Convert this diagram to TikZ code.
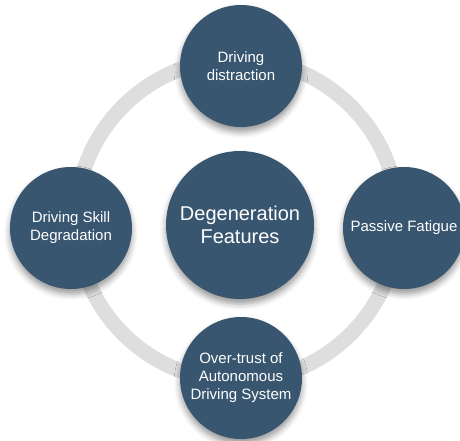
\documentclass[tikz,border=0pt]{standalone}
\usepackage{fontspec}
\setmainfont{Liberation Sans}
\usetikzlibrary{shapes,shadows.blur}
\definecolor{featblue}{HTML}{38566F}
\definecolor{ringgray}{HTML}{DEDEDE}
\tikzset{
  feature/.style = {circle, fill=featblue, text=white, align=center,
                    minimum size=122pt, inner sep=0pt,
                    font=\fontsize{15}{18}\selectfont,
                    blur shadow={shadow xshift=0pt, shadow yshift=-5pt,
                                 shadow blur radius=6pt, shadow opacity=40}},
  hub/.style     = {feature, minimum size=148pt,
                    font=\fontsize{20}{23}\selectfont},
  ring/.style    = {draw=ringgray, line width=15pt}
}

\begin{document}
\begin{tikzpicture}[x=1pt,y=-1pt]
  \useasboundingbox (0,0) rectangle (460,441);
  \coordinate (ringc) at (237,220);
  \draw[ring] (ringc) circle (161pt);
  \node[hub]     (degen)    at (240,225) {Degeneration\\Features};
  \node[feature] (distract) at (241,66)  {Driving\\distraction};
  \node[feature] (skill)    at (71,228)  {Driving Skill\\Degradation};
  \node[feature] (fatigue)  at (404,228) {Passive Fatigue};
  \node[feature] (trust)    at (241,378) {Over-trust of\\Autonomous\\Driving System};
\end{tikzpicture}
\end{document}
